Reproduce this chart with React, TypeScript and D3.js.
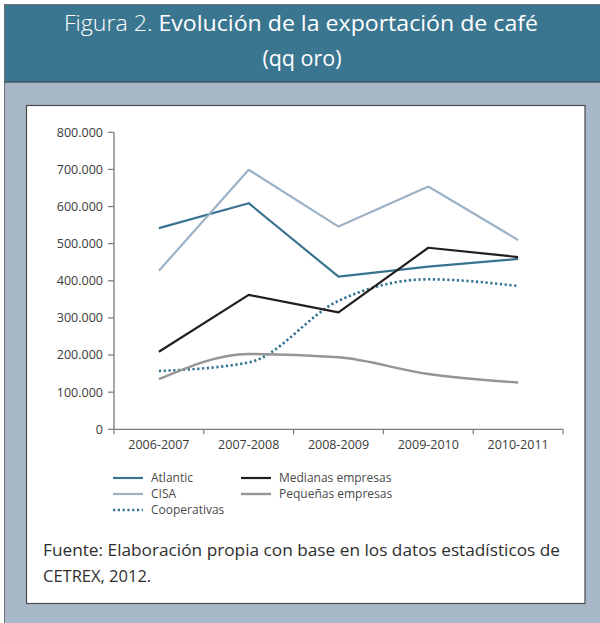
import React from "react";
import * as d3 from "d3";

const categories = ["2006-2007", "2007-2008", "2008-2009", "2009-2010", "2010-2011"];
const atlantic = [542000, 609000, 411000, 438000, 459000];
const cisa = [427000, 699000, 546000, 654000, 510000];
const cooperativas = [157000, 180000, 346000, 404000, 386000];
const medianas = [209000, 362000, 315000, 489000, 464000];
const pequenas = [135000, 203000, 194000, 149000, 126000];
const yTicks = [0, 100000, 200000, 300000, 400000, 500000, 600000, 700000, 800000];

const FONT = "'Open Sans', Lato, sans-serif";

const series = [
  { name: "Atlantic", values: atlantic, color: "#3a7491", dash: "", smooth: false, w: 2.2 },
  { name: "CISA", values: cisa, color: "#9eb2c6", dash: "", smooth: false, w: 2.2 },
  { name: "Cooperativas", values: cooperativas, color: "#2f7193", dash: "2.2 2.6", smooth: true, w: 2.6 },
  { name: "Medianas empresas", values: medianas, color: "#231f20", dash: "", smooth: false, w: 2.2 },
  { name: "Pequeñas empresas", values: pequenas, color: "#959595", dash: "", smooth: true, w: 2.4 },
];

const fmt = (v: number) => (v === 0 ? "0" : d3.format(",")(v).replace(/,/g, "."));

export default function App() {
  const x = d3.scaleBand<string>().domain(categories).range([114, 563]);
  const y = d3.scaleLinear().domain([0, 800000]).range([429.3, 132.3]);
  const cx = (c: string) => (x(c) as number) + x.bandwidth() / 2;

  const legendPos = [
    { x: 113, y: 478 },
    { x: 113, y: 494 },
    { x: 113, y: 510 },
    { x: 241, y: 478 },
    { x: 241, y: 494 },
  ];

  return (
    <svg width={600} height={623} style={{ position: "absolute", left: 0, top: 0 }} fontFamily={FONT}>
      <rect x={0} y={0} width={600} height={623} fill="#ffffff" />
      <rect x={4.5} y={4.5} width={600} height={630} fill="#a9b8c9" stroke="#6f7378" strokeWidth={1} />
      <rect x={4.5} y={4.5} width={600} height={77.5} fill="#3b7691" stroke="#6f7378" strokeWidth={1} />
      <line x1={4.5} x2={600} y1={82} y2={82} stroke="#2b4d5e" strokeWidth={1.2} />
      <text x={301} y={31} textAnchor="middle" fill="#ffffff" fontSize={21.5} textLength={474} lengthAdjust="spacingAndGlyphs">
        <tspan fontWeight={300}>Figura 2. </tspan>
        <tspan fontWeight={400}>Evolución de la exportación de café</tspan>
      </text>
      <text x={302} y={66} textAnchor="middle" fill="#ffffff" fontSize={21.5}>(qq oro)</text>

      <rect x={26.5} y={105.5} width={558.5} height={498} fill="#ffffff" stroke="#4a4a4a" strokeWidth={1.2} />

      {/* y axis */}
      <line x1={114} x2={114} y1={y(800000)} y2={y(0)} stroke="#7a7a7a" strokeWidth={1.3} />
      {yTicks.map((t) => (
        <g key={t}>
          <line x1={108} x2={114} y1={y(t)} y2={y(t)} stroke="#7a7a7a" strokeWidth={1.2} />
          <text x={103} y={y(t)} dy="0.35em" textAnchor="end" fontSize={12.5} fill="#3a3a3a">
            {fmt(t)}
          </text>
        </g>
      ))}
      {/* x axis */}
      <line x1={114} x2={563} y1={y(0)} y2={y(0)} stroke="#7a7a7a" strokeWidth={1.3} />
      {[...categories.map((c) => x(c) as number), 563].map((px, i) => (
        <line key={i} x1={px} x2={px} y1={y(0)} y2={y(0) + 5} stroke="#7a7a7a" strokeWidth={1.2} />
      ))}
      {categories.map((c) => (
        <text key={c} x={cx(c)} y={449} textAnchor="middle" fontSize={12.5} fill="#3a3a3a">
          {c}
        </text>
      ))}

      {/* series */}
      {series.map((s) => {
        const line = d3
          .line<number>()
          .x((_, i) => cx(categories[i]))
          .y((v) => y(v))
          .curve(s.smooth ? d3.curveMonotoneX : d3.curveLinear);
        return (
          <path
            key={s.name}
            d={line(s.values) || ""}
            fill="none"
            stroke={s.color}
            strokeWidth={s.w}
            strokeDasharray={s.dash || undefined}
            strokeLinejoin="round"
          />
        );
      })}

      {/* legend */}
      {series.map((s, i) => (
        <g key={s.name}>
          <line
            x1={legendPos[i].x}
            x2={legendPos[i].x + 30}
            y1={legendPos[i].y}
            y2={legendPos[i].y}
            stroke={s.color}
            strokeWidth={s.w}
            strokeDasharray={s.dash || undefined}
          />
          <text x={legendPos[i].x + 38} y={legendPos[i].y} dy="0.35em" fontSize={12} fill="#4a4a4a">
            {s.name}
          </text>
        </g>
      ))}

      <text x={43} y={556} fontSize={16.5} fill="#2e2e2e" textLength={517} lengthAdjust="spacingAndGlyphs">
        Fuente: Elaboración propia con base en los datos estadísticos de
      </text>
      <text x={43} y={582} fontSize={16.5} fill="#2e2e2e">
        CETREX, 2012.
      </text>
    </svg>
  );
}
